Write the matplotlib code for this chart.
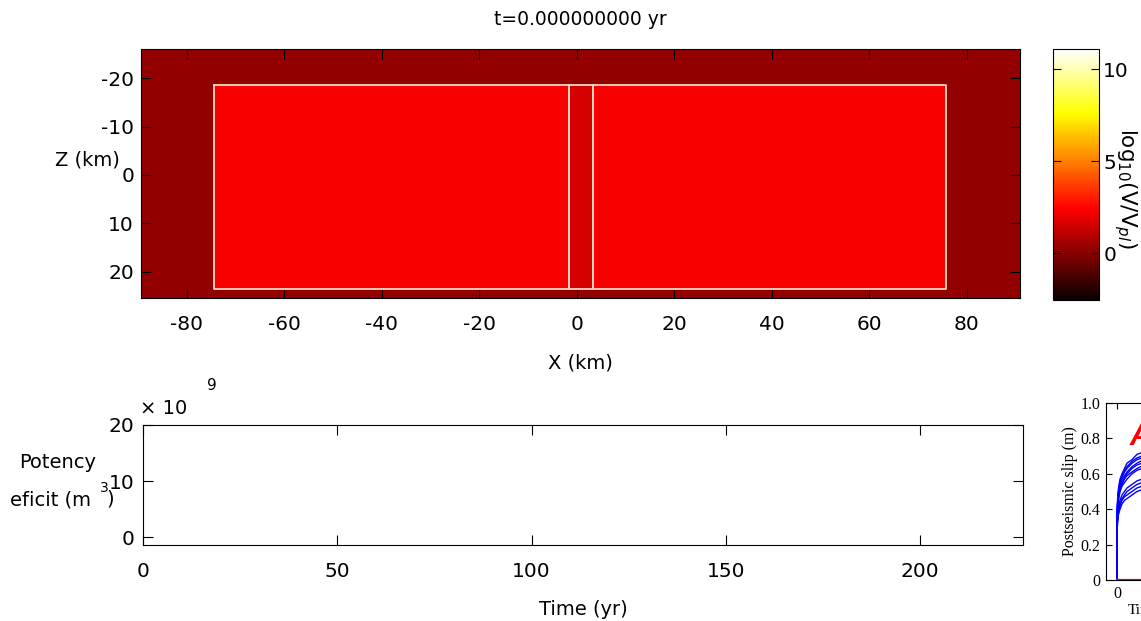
import matplotlib
matplotlib.use("Agg")
import matplotlib.pyplot as plt
import numpy as np

# slip-rate field on the fault plane (log10 V/Vpl), cell edges in km
x_edges = [-89.4, -74.5, -1.6, 3.3, 75.7, 90.9]
z_edges = [-26.0, -18.5, 23.5, 25.4]
log_v = [[0.27, 0.27, 0.27, 0.27, 0.27],
         [0.27, 2.30, 1.60, 2.30, 0.27],
         [0.27, 0.27, 0.27, 0.27, 0.27]]
# fault patch outlines (x0, x1, z0, z1)
patches = [(-74.5, -1.6, -18.5, 23.5), (-1.6, 3.3, -18.5, 23.5),
           (3.3, 75.7, -18.5, 23.5)]

# potency deficit time series (empty at t=0)
time_yr = []
deficit = []

# inset: postseismic slip curves
t_post = [0, 0.002, 0.01, 0.03, 0.06, 0.1, 0.15, 0.2, 0.3, 0.4, 0.5]
slip_curves = [
    [0, 0.36, 0.45, 0.52, 0.57, 0.60, 0.63, 0.66, 0.68, 0.71, 0.72],
    [0, 0.35, 0.43, 0.50, 0.55, 0.59, 0.62, 0.64, 0.67, 0.69, 0.70],
    [0, 0.34, 0.43, 0.50, 0.55, 0.58, 0.61, 0.63, 0.66, 0.68, 0.69],
    [0, 0.34, 0.42, 0.49, 0.53, 0.57, 0.59, 0.61, 0.64, 0.66, 0.675],
    [0, 0.33, 0.41, 0.48, 0.52, 0.55, 0.58, 0.60, 0.63, 0.65, 0.66],
    [0, 0.32, 0.40, 0.46, 0.51, 0.54, 0.57, 0.59, 0.61, 0.63, 0.645],
    [0, 0.32, 0.39, 0.45, 0.50, 0.53, 0.55, 0.57, 0.60, 0.62, 0.63],
    [0, 0.29, 0.35, 0.41, 0.45, 0.48, 0.50, 0.52, 0.54, 0.56, 0.57],
    [0, 0.28, 0.34, 0.40, 0.43, 0.46, 0.48, 0.50, 0.52, 0.54, 0.55],
    [0, 0.27, 0.33, 0.38, 0.42, 0.45, 0.47, 0.48, 0.50, 0.52, 0.53],
    [0, 0.26, 0.32, 0.37, 0.40, 0.43, 0.45, 0.46, 0.48, 0.50, 0.51],
]
t_zero = [0, 5]
slip_zero = [0, 0]

plt.rcParams['font.family'] = ['DejaVu Sans']
plt.rcParams['font.size'] = 14
plt.rcParams['axes.unicode_minus'] = False

W, H = 1141, 621
fig = plt.figure(figsize=(W / 100, H / 100), dpi=100)


def px_axes(x0, y0, x1, y1):
    return fig.add_axes([x0 / W, 1 - y1 / H, (x1 - x0) / W, (y1 - y0) / H])


# ---- top panel: fault map
ax = px_axes(141, 49, 1020, 298)
im = ax.pcolormesh(x_edges, z_edges, np.array(log_v), cmap='hot',
                   vmin=-2.55, vmax=11.09)
for x0, x1, z0, z1 in patches:
    ax.plot([x0, x1, x1, x0, x0], [z0, z0, z1, z1, z0],
            color='#f3d6c2', lw=1.3)
ax.set_xlim(-89.4, 90.9)
ax.set_ylim(25.4, -26.0)
ax.set_xticks(range(-80, 81, 20))
ax.set_yticks([-20, -10, 0, 10, 20])
ax.tick_params(direction='in', length=7, top=True, right=True,
               color='black', labelsize=14.5)
ax.tick_params(axis='x', pad=12)
ax.tick_params(axis='y', pad=5)
ax.set_title('t=0.000000000 yr', fontsize=13.5, pad=17)
ax.set_xlabel('X (km)', fontsize=14, labelpad=14)
fig.text(87 / W, 1 - 160 / H, 'Z (km)', ha='center', va='center', fontsize=14)

cax = px_axes(1053, 49, 1099, 300)
cb = fig.colorbar(im, cax=cax, ticks=[0, 5, 10])
cax.tick_params(direction='in', left=True, right=True, length=6,
                labelsize=14.5, pad=3)
fig.text(1125 / W, 1 - 188 / H, r'log$_{10}$(V/V$_{pl}$)', rotation=270,
         ha='center', va='center', fontsize=15.5)

# ---- bottom panel: potency deficit
ax2 = px_axes(143, 425, 1023, 545)
ax2.plot(time_yr, deficit, color='blue')
ax2.set_xlim(0, 226.5)
ax2.set_ylim(-1.4e9, 20e9)
ax2.set_xticks([0, 50, 100, 150, 200])
ax2.set_yticks([0, 10e9, 20e9])
ax2.set_yticklabels(['0', '10', '20'])
ax2.tick_params(direction='in', length=7, top=True, right=True, labelsize=14.5)
ax2.tick_params(axis='x', pad=12)
ax2.tick_params(axis='y', pad=6)
ax2.set_xlabel('Time (yr)', fontsize=14, labelpad=14)
fig.text(140 / W, 1 - 408 / H, '\u00d7 10', ha='left', va='center', fontsize=14)
fig.text(212 / W, 1 - 386 / H, '9', ha='center', va='center', fontsize=11)
fig.text(58 / W, 1 - 463 / H, 'Potency', ha='center', va='center', fontsize=14)
fig.text(10 / W, 1 - 500 / H, 'eficit (m', ha='left', va='center', fontsize=14)
fig.text(104 / W, 1 - 488 / H, '3', ha='center', va='center', fontsize=10)
fig.text(110 / W, 1 - 499 / H, ')', ha='center', va='center', fontsize=14)

# ---- inset: postseismic slip (cut at the right edge)
ax3 = px_axes(1106, 403, 1406, 580)
serif = ['Liberation Serif', 'DejaVu Serif']
for s in slip_curves:
    ax3.plot(t_post, s, color='blue', lw=1.0)
ax3.plot(t_zero, slip_zero, color='red', lw=1.6)
ax3.set_xlim(-0.22, 5.78)
ax3.set_ylim(0, 1.0)
ax3.set_xticks([0])
ax3.set_yticks([0, 0.2, 0.4, 0.6, 0.8, 1.0])
ax3.set_yticklabels(['0', '0.2', '0.4', '0.6', '0.8', '1.0'])
ax3.tick_params(direction='in', length=4, top=True, right=True,
                labelsize=11.5, pad=4)
for lab in ax3.get_xticklabels() + ax3.get_yticklabels():
    lab.set_family(serif)
ax3.set_ylabel('Postseismic slip (m)', fontsize=11.5, family=serif,
               labelpad=2)
ax3.text(0.08, 0.81, 'A', transform=ax3.transAxes, color='red', fontsize=22,
         fontweight='bold', fontstyle='italic', family=['Liberation Sans'],
         ha='left', va='center')
fig.text(1128 / W, 1 - 610 / H, 'Time', ha='left', va='center', fontsize=11,
         family=serif)

fig.savefig('out.png', dpi=100)
